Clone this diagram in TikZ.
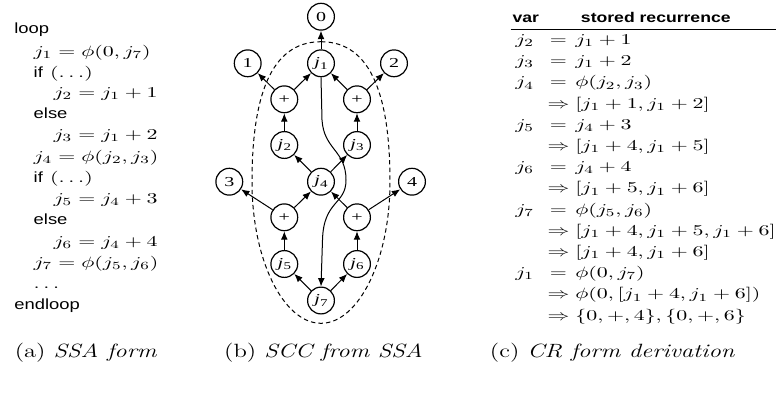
\documentclass[tikz,border=0pt]{standalone}
\usepackage{graphicx}
\usepackage{fontspec}
\newfontfamily\nodefont{Liberation Serif}
\newfontfamily\sansfont{Liberation Sans}
\usetikzlibrary{arrows.meta}
\newcommand\sq[1]{\scalebox{1}[0.685]{#1}}
\newcommand\kw[1]{\scalebox{1}[0.8]{\sansfont\fontsize{9.2}{11}\selectfont #1}}
\newcommand\jv[1]{\sq{\textit{j}\kern0.2pt\raisebox{-2pt}{\fontsize{7.5}{8}\selectfont #1}}}
\tikzset{
  vnode/.style={circle, draw, fill=white, line width=0.6pt, minimum size=13.4pt, inner sep=0pt,
    font=\nodefont\fontsize{10}{11}\selectfont},
  arr/.style={-{Latex[length=4.2pt,width=3.4pt]}, line width=0.5pt},
  code/.style={anchor=base west, inner sep=0pt, font=\fontsize{10.95}{12}\selectfont},
  mid/.style={anchor=base, inner sep=0pt, font=\fontsize{10.95}{12}\selectfont},
  hdr/.style={anchor=base, inner sep=0pt, font=\sansfont\bfseries\fontsize{8.8}{10}\selectfont},
  captext/.style={anchor=base, inner sep=0pt, font=\fontsize{12.3}{14}\selectfont},
  blob/.style={dashed, dash pattern=on 2.2pt off 1.6pt, line width=0.5pt}
}
\begin{document}
\begin{tikzpicture}[x=0.5pt,y=-0.5pt]
\useasboundingbox (0,0) rectangle (777,397);
% ---------- (a) SSA form ----------
\node[code] (l1)  at (14,33.7)   {\kw{loop}};
\node[code] (l2)  at (33.3,56)   {\sq{$j_1 = \phi(0, j_7)$}};
\node[code] (l3)  at (33.3,77.3) {\kw{if} \sq{$(\ldots)$}};
\node[code] (l4)  at (53.3,97)   {\sq{$j_2 = j_1 + 1$}};
\node[code] (l5)  at (33.3,118.3){\kw{else}};
\node[code] (l6)  at (53.3,139.3){\sq{$j_3 = j_1 + 2$}};
\node[code] (l7)  at (33.3,161.6){\sq{$j_4 = \phi(j_2, j_3)$}};
\node[code] (l8)  at (33.3,182.7){\kw{if} \sq{$(\ldots)$}};
\node[code] (l9)  at (53.3,203.3){\sq{$j_5 = j_4 + 3$}};
\node[code] (l10) at (33.3,224)  {\kw{else}};
\node[code] (l11) at (53.3,246)  {\sq{$j_6 = j_4 + 4$}};
\node[code] (l12) at (33.3,267.6){\sq{$j_7 = \phi(j_5, j_6)$}};
\node[code] (l13) at (33.3,288)  {\sq{$\ldots$}};
\node[code] (l14) at (14,309)    {\kw{endloop}};
% ---------- (b) SCC ----------
\draw[blob] (321,41.7) .. controls (372,41.7) and (390,98) .. (390,182)
  .. controls (390,260) and (358.5,323.3) .. (321,323.3)
  .. controls (283.5,323.3) and (252,260) .. (252,182)
  .. controls (252,98) and (270,41.7) .. (321,41.7) -- cycle;
\node[vnode] (n0) at (321,16.7) {\sq{0}};
\node[vnode] (n1) at (247.7,63.3) {\sq{1}};
\node[vnode] (j1) at (321,63.3) {\jv{1}};
\node[vnode] (n2) at (394,63.3) {\sq{2}};
\node[vnode] (pa) at (284.3,99.3) {\sq{+}};
\node[vnode] (pb) at (357,99.3) {\sq{+}};
\node[vnode] (j2) at (284.3,145) {\jv{2}};
\node[vnode] (j3) at (357,145) {\jv{3}};
\node[vnode] (n3) at (229.3,181.7) {\sq{3}};
\node[vnode] (j4) at (321,181.7) {\jv{4}};
\node[vnode] (n4) at (412,181.7) {\sq{4}};
\node[vnode] (pc) at (284.3,217.3) {\sq{+}};
\node[vnode] (pd) at (357,217.3) {\sq{+}};
\node[vnode] (j5) at (284.3,264) {\jv{5}};
\node[vnode] (j6) at (357,264) {\jv{6}};
\node[vnode] (j7) at (321,300.5) {\jv{7}};
\draw[arr] (j1) -- (n0);
\draw[arr] (pa) -- (n1);
\draw[arr] (pa) -- (j1);
\draw[arr] (pb) -- (n2);
\draw[arr] (pb) -- (j1);
\draw[arr] (j2) -- (pa);
\draw[arr] (j3) -- (pb);
\draw[arr] (j4) -- (j2);
\draw[arr] (j4) -- (j3);
\draw[arr] (pc) -- (n3);
\draw[arr] (pc) -- (j4);
\draw[arr] (pd) -- (n4);
\draw[arr] (pd) -- (j4);
\draw[arr] (j5) -- (pc);
\draw[arr] (j6) -- (pd);
\draw[arr] (j7) -- (j5);
\draw[arr] (j7) -- (j6);
\draw[arr] (j1.south) -- (322,120) .. controls (324,150) and (346,150) .. (346,180)
  .. controls (346,205) and (323.5,200) .. (322.5,240) -- (j7.north);
% ---------- (c) CR form derivation ----------
\node[hdr] (h1) at (525.8,22.5) {\scalebox{1}[0.8]{var}};
\node[hdr] (h2) at (655.8,22.5) {\scalebox{1}[0.8]{stored recurrence}};
\draw[line width=0.6pt] (510.7,29.3) -- (776,29.3);
\node[code] (v0) at (515,44.5)    {\sq{$j_2$}};  \node[mid] (m0) at (558.5,44.5)    {\sq{$=$}}; \node[code] (r0) at (575,44.5)    {\sq{$j_1 + 1$}};
\node[code] (v1) at (515,65.7)  {\sq{$j_3$}};  \node[mid] (m1) at (558.5,65.7)  {\sq{$=$}}; \node[code] (r1) at (575,65.7)  {\sq{$j_1 + 2$}};
\node[code] (v2) at (515,86.9)  {\sq{$j_4$}};  \node[mid] (m2) at (558.5,86.9)  {\sq{$=$}}; \node[code] (r2) at (575,86.9)  {\sq{$\phi(j_2, j_3)$}};
\node[mid] (m3) at (558.5,108.1) {\sq{$\Rightarrow$}}; \node[code] (r3) at (575,108.1) {\sq{$[j_1 + 1, j_1 + 2]$}};
\node[code] (v4) at (515,129.3) {\sq{$j_5$}};  \node[mid] (m4) at (558.5,129.3) {\sq{$=$}}; \node[code] (r4) at (575,129.3) {\sq{$j_4 + 3$}};
\node[mid] (m5) at (558.5,150.5)   {\sq{$\Rightarrow$}}; \node[code] (r5) at (575,150.5)   {\sq{$[j_1 + 4, j_1 + 5]$}};
\node[code] (v6) at (515,171.7) {\sq{$j_6$}};  \node[mid] (m6) at (558.5,171.7) {\sq{$=$}}; \node[code] (r6) at (575,171.7) {\sq{$j_4 + 4$}};
\node[mid] (m7) at (558.5,192.9) {\sq{$\Rightarrow$}}; \node[code] (r7) at (575,192.9) {\sq{$[j_1 + 5, j_1 + 6]$}};
\node[code] (v8) at (515,214.1) {\sq{$j_7$}};  \node[mid] (m8) at (558.5,214.1) {\sq{$=$}}; \node[code] (r8) at (575,214.1) {\sq{$\phi(j_5, j_6)$}};
\node[mid] (m9) at (558.5,235.3) {\sq{$\Rightarrow$}}; \node[code] (r9) at (575,235.3) {\sq{$[j_1 + 4, j_1 + 5, j_1 + 6]$}};
\node[mid] (m10) at (558.5,256.5)  {\sq{$\Rightarrow$}}; \node[code] (r10) at (575,256.5)  {\sq{$[j_1 + 4, j_1 + 6]$}};
\node[code] (v11) at (515,277.7) {\sq{$j_1$}}; \node[mid] (m11) at (558.5,277.7) {\sq{$=$}}; \node[code] (r11) at (575,277.7) {\sq{$\phi(0, j_7)$}};
\node[mid] (m12) at (558.5,298.9) {\sq{$\Rightarrow$}}; \node[code] (r12) at (575,298.9) {\sq{$\phi(0, [j_1 + 4, j_1 + 6])$}};
\node[mid] (m13) at (558.5,320.1) {\sq{$\Rightarrow$}}; \node[code] (r13) at (575,320.1) {\sq{$\{0, +, 4\}, \{0, +, 6\}$}};
% ---------- captions ----------
\node[captext] (ca) at (86,357.5)    {\scalebox{1}[0.78]{(a) \textit{SSA form}}};
\node[captext] (cb) at (323.5,357.5) {\scalebox{1}[0.78]{(b) \textit{SCC from SSA}}};
\node[captext] (cc) at (612.5,357.5) {\scalebox{1}[0.78]{(c) \textit{CR form derivation}}};
\end{tikzpicture}
\end{document}
